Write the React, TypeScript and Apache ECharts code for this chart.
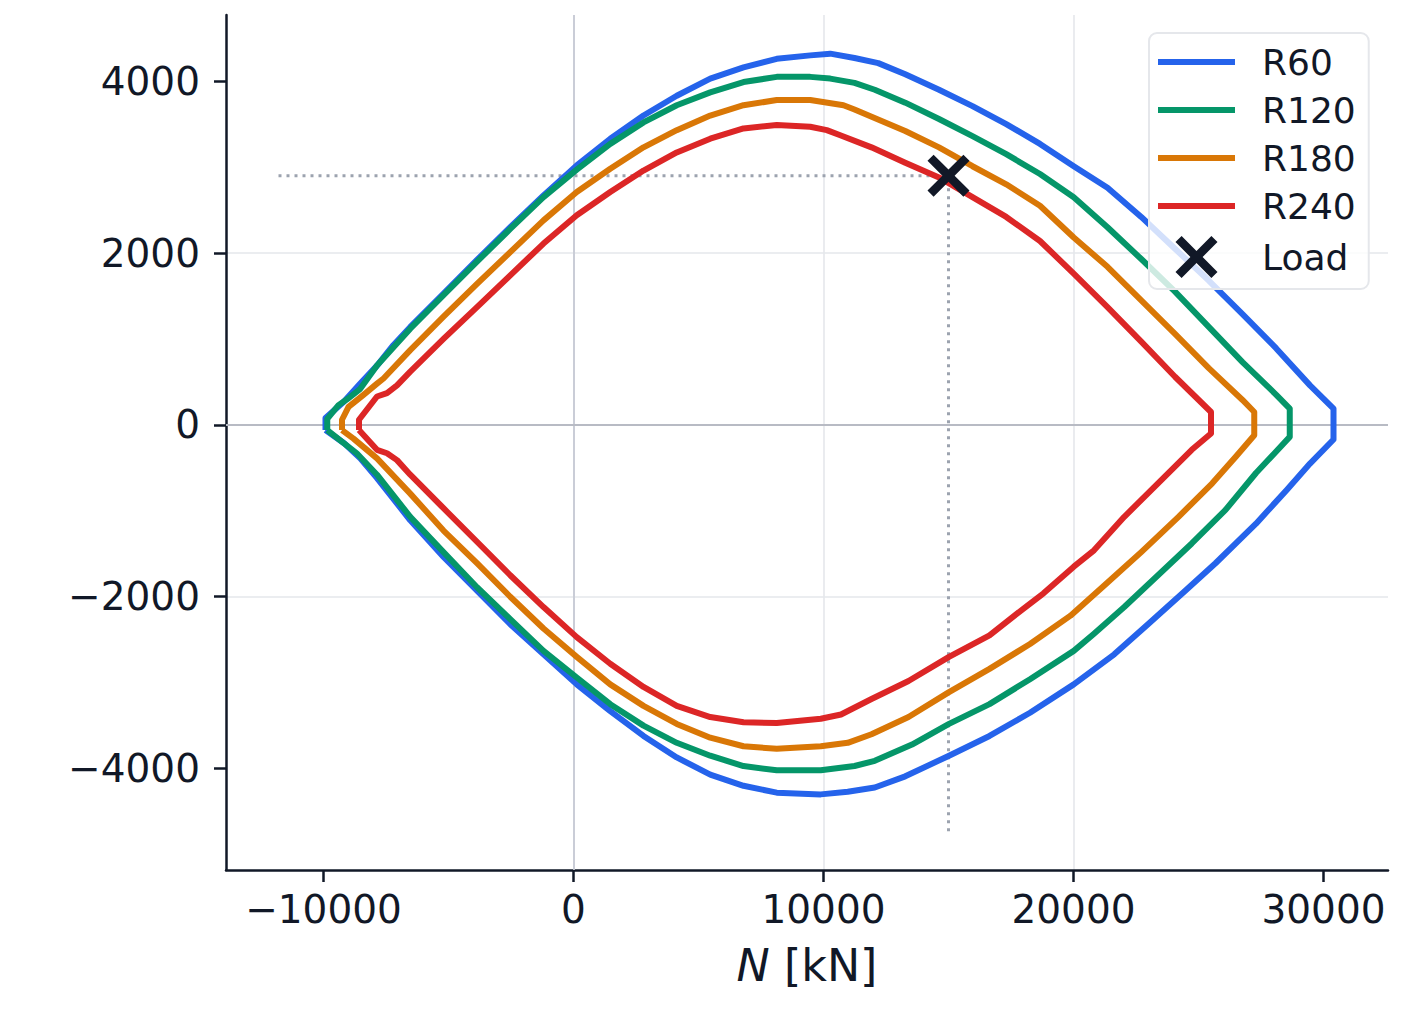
import { useEffect, useRef } from "react";
import * as echarts from "echarts";

// ---- axis ticks ----
const N_TICKS = [-10000, 0, 10000, 20000, 30000];
const M_TICKS = [-4000, -2000, 0, 2000, 4000];

// ---- series names / colours ----
const SERIES_NAMES = ["R60", "R120", "R180", "R240"];
const SERIES_COLORS = ["#2563eb", "#059669", "#d97706", "#dc2626"];

// ---- interaction curves [N kN, M kNm] ----
const R60_UPPER = [
  [-9920, -60], [-9920, 80], [-9190, 270], [-8530, 480], [-7860, 690], [-7200, 930],
  [-6530, 1140], [-5190, 1530], [-3860, 1920], [-2530, 2300], [-1200, 2670], [130, 3020],
  [1470, 3330], [2800, 3600], [4130, 3830], [5470, 4030], [6800, 4160], [8130, 4260],
  [9470, 4300], [10270, 4320], [11240, 4270], [12190, 4210], [13270, 4080], [14620, 3900],
  [15960, 3710], [17310, 3500], [18660, 3270], [20010, 3010], [21360, 2760], [22710, 2420],
  [24060, 2050], [25410, 1680], [26760, 1290], [28110, 890], [29460, 460], [30400, 190],
];
const R60_LOWER = [
  [30400, -170], [29460, -450], [28520, -760], [27300, -1150], [25680, -1610], [24470, -1930],
  [22980, -2320], [21630, -2670], [20010, -3020], [18260, -3350], [16640, -3620], [15020, -3850],
  [13270, -4090], [12050, -4220], [10970, -4270], [9890, -4300], [8130, -4280], [6800, -4200],
  [5470, -4070], [4130, -3870], [2800, -3620], [1470, -3330], [130, -3020], [-1200, -2670],
  [-2530, -2320], [-3860, -1930], [-5190, -1540], [-6530, -1110], [-7860, -620], [-8530, -390],
  [-9190, -210], [-9920, -60],
];

const R120_UPPER = [
  [-9850, -60], [-9850, 70], [-9400, 230], [-9000, 310], [-8530, 420], [-7860, 690],
  [-6530, 1120], [-5200, 1510], [-3860, 1900], [-2530, 2280], [-1200, 2650], [130, 2970],
  [1470, 3270], [2800, 3520], [4130, 3720], [5470, 3870], [6800, 3990], [8130, 4050],
  [9470, 4050], [10270, 4030], [11240, 3980], [12050, 3900], [13270, 3750], [14620, 3560],
  [15960, 3360], [17310, 3150], [18660, 2920], [20010, 2650], [21360, 2300], [22710, 1930],
  [24060, 1550], [25410, 1140], [26760, 730], [28110, 350], [28650, 190],
];
const R120_LOWER = [
  [28650, -140], [27300, -560], [26080, -990], [24730, -1380], [23380, -1750], [22030, -2120],
  [20820, -2430], [20010, -2630], [18260, -2960], [16640, -3250], [15020, -3480], [13540, -3720],
  [12050, -3910], [11240, -3970], [9890, -4020], [8130, -4020], [6800, -3970], [5470, -3850],
  [4130, -3700], [2800, -3500], [1470, -3250], [130, -2940], [-1200, -2630], [-2530, -2260],
  [-3860, -1890], [-5200, -1480], [-6530, -1070], [-7860, -580], [-8670, -330], [-9330, -180],
  [-9850, -60],
];

const R180_UPPER = [
  [-9260, -60], [-9260, 60], [-9000, 210], [-8400, 350], [-7860, 480], [-7600, 540],
  [-6530, 870], [-5200, 1260], [-3860, 1640], [-2530, 2010], [-1200, 2380], [130, 2710],
  [1470, 2980], [2800, 3230], [4130, 3430], [5470, 3600], [6800, 3720], [8130, 3780],
  [9470, 3780], [10800, 3720], [11240, 3670], [13270, 3420], [14620, 3230], [15960, 3010],
  [17310, 2800], [18660, 2550], [20010, 2180], [21360, 1840], [22710, 1450], [24060, 1060],
  [25410, 660], [26760, 290], [27230, 150],
];
const R180_LOWER = [
  [27230, -120], [26490, -370], [25550, -680], [24200, -1070], [22710, -1480], [21230, -1870],
  [19880, -2220], [18260, -2550], [16640, -2840], [15020, -3110], [13400, -3400], [11920, -3600],
  [10970, -3700], [9890, -3740], [8130, -3770], [6800, -3740], [5470, -3640], [4130, -3480],
  [2800, -3270], [1470, -3020], [130, -2700], [-1200, -2370], [-2530, -2000], [-3860, -1610],
  [-5200, -1230], [-6530, -800], [-7860, -390], [-8800, -160], [-9260, -60],
];

const R240_UPPER = [
  [-8580, -60], [-8580, 60], [-7860, 330], [-7460, 370], [-7060, 460], [-6530, 620],
  [-5200, 1000], [-3860, 1370], [-2530, 1740], [-1200, 2110], [130, 2440], [1470, 2710],
  [2800, 2960], [4130, 3170], [5470, 3330], [6800, 3450], [8130, 3490], [9470, 3470],
  [10130, 3430], [10670, 3370], [11920, 3230], [13270, 3050], [14620, 2880], [15960, 2650],
  [17310, 2420], [18660, 2140], [20010, 1760], [21360, 1370], [22710, 970], [24060, 560],
  [25500, 150],
];
const R240_LOWER = [
  [25500, -100], [24730, -290], [23380, -680], [22030, -1070], [20820, -1460], [20010, -1650],
  [18800, -1960], [17990, -2140], [16640, -2450], [15020, -2700], [13400, -2980], [11920, -3190],
  [10700, -3370], [9890, -3420], [8130, -3470], [6800, -3460], [5470, -3400], [4130, -3270],
  [2800, -3050], [1470, -2780], [130, -2470], [-1200, -2120], [-2530, -1750], [-3860, -1360],
  [-5200, -970], [-6530, -580], [-7060, -410], [-7460, -330], [-7860, -290], [-8580, -60],
];

const CURVES = [
  [...R60_UPPER, ...R60_LOWER],
  [...R120_UPPER, ...R120_LOWER],
  [...R180_UPPER, ...R180_LOWER],
  [...R240_UPPER, ...R240_LOWER],
];

// ---- load point and its guide lines ----
const LOAD = [[15000, 2900]];
const LOAD_GUIDE_H = [[-11800, 2900], [15000, 2900]];
const LOAD_GUIDE_V = [[15000, -4730], [15000, 2900]];

// ---- axis extents ----
const X_MIN = -13900;
const X_MAX = 32580;
const Y_MIN = -5180;
const Y_MAX = 4770;

const FONT = "DejaVu Sans";
const INK = "#111827";
const X_ICON =
  "path://M17,0L58.5,41.5L100,0L117,17L75.5,58.5L117,100L100,117L58.5,75.5L17,117L0,100L41.5,58.5L0,17Z";
const LINE_ICON = "path://M0,0H77V6H0Z";

const fmt = (v: number) => (v < 0 ? "\u2212" + Math.abs(v) : String(v));

export default function App() {
  const ref = useRef<HTMLDivElement>(null);
  useEffect(() => {
    if (!ref.current) return;
    const chart = echarts.init(ref.current, null, { renderer: "svg" });
    const curveSeries = CURVES.map((d, i) => ({
      name: SERIES_NAMES[i],
      type: "line",
      data: d,
      showSymbol: false,
      symbol: "none",
      silent: true,
      z: 3,
      itemStyle: { color: SERIES_COLORS[i], borderWidth: 0 },
      lineStyle: { color: SERIES_COLORS[i], width: 6, join: "round" },
    }));
    const option: any = {
      animation: false,
      backgroundColor: "#ffffff",
      textStyle: { fontFamily: FONT },
      grid: { left: 226, top: 15, width: 1162, height: 855, containLabel: false },
      xAxis: {
        type: "value",
        min: X_MIN,
        max: X_MAX,
        name: "{i|N} [kN]",
        nameLocation: "middle",
        nameGap: 73,
        nameTextStyle: {
          fontSize: 44.4,
          color: INK,
          fontFamily: FONT,
          rich: { i: { fontStyle: "italic", fontSize: 44.4, color: INK, fontFamily: FONT } },
        },
        axisLine: { show: true, onZero: false, lineStyle: { color: INK, width: 2.5 } },
        axisTick: { show: true, length: 12, customValues: N_TICKS, lineStyle: { color: INK, width: 2.5 } },
        axisLabel: { customValues: N_TICKS, formatter: fmt, fontSize: 39, color: INK, margin: 20, fontFamily: FONT },
        splitLine: { show: true, showMinLine: false, showMaxLine: false, lineStyle: { color: "#e5e7eb", width: 1.6 } },
      },
      yAxis: {
        type: "value",
        min: Y_MIN,
        max: Y_MAX,
        axisLine: { show: true, onZero: false, lineStyle: { color: INK, width: 2.5 } },
        axisTick: { show: true, length: 12, customValues: M_TICKS, lineStyle: { color: INK, width: 2.5 } },
        axisLabel: { customValues: M_TICKS, formatter: fmt, fontSize: 39, color: INK, margin: 26, fontFamily: FONT },
        splitLine: { show: true, showMinLine: false, showMaxLine: false, lineStyle: { color: "#e5e7eb", width: 1.6 } },
      },
      legend: {
        orient: "vertical",
        left: 1149,
        top: 33,
        padding: [11, 13, 11, 9],
        itemWidth: 77,
        itemHeight: 42,
        itemGap: 12,
        symbolKeepAspect: true,
        selectedMode: false,
        backgroundColor: "rgba(255,255,255,0.8)",
        borderColor: "#e5e7eb",
        borderWidth: 2,
        borderRadius: 8,
        itemStyle: { borderWidth: 0 },
        textStyle: { fontSize: 36, color: INK, fontFamily: FONT, padding: [0, 0, 0, 22] },
        data: [
          ...SERIES_NAMES.map((n) => ({ name: n, icon: LINE_ICON })),
          { name: "Load", icon: X_ICON },
        ],
      },
      series: [
        {
          type: "line",
          data: LOAD_GUIDE_H,
          showSymbol: false,
          symbol: "none",
          silent: true,
          z: 2,
          lineStyle: { color: "#9ca3af", width: 3, type: [3, 5] },
          markLine: {
            silent: true,
            z: 1,
            symbol: ["none", "none"],
            label: { show: false },
            animation: false,
            data: [
              { xAxis: 0, lineStyle: { color: "#c7cad4", width: 1.8, type: "solid" } },
              { yAxis: 0, lineStyle: { color: "#b8bbc4", width: 1.8, type: "solid" } },
            ],
          },
        },
        {
          type: "line",
          data: LOAD_GUIDE_V,
          showSymbol: false,
          symbol: "none",
          silent: true,
          z: 2,
          lineStyle: { color: "#9ca3af", width: 3, type: [3, 5] },
        },
        ...curveSeries,
        {
          name: "Load",
          type: "scatter",
          data: LOAD,
          symbol: X_ICON,
          symbolSize: 42,
          silent: true,
          z: 6,
          itemStyle: { color: INK, opacity: 1 },
        },
      ],
    };
    chart.setOption(option);
    return () => chart.dispose();
  }, []);
  return (
    <div
      ref={ref}
      style={{ position: "fixed", left: 0, top: 0, width: 1408, height: 1023, background: "#fff" }}
    />
  );
}
